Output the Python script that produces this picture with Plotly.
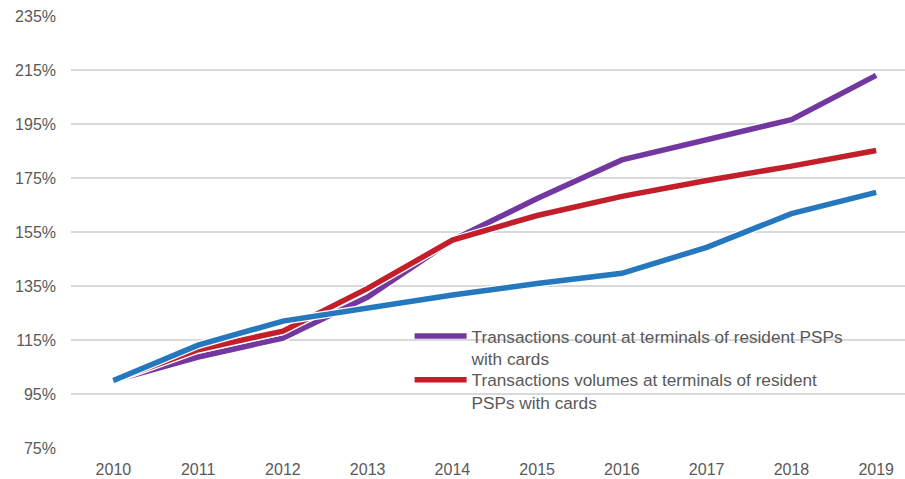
import plotly.graph_objects as go

years = ["2010", "2011", "2012", "2013", "2014", "2015", "2016", "2017", "2018", "2019"]
count_vals = [100, 108.7, 115.7, 130.9, 152.0, 167.4, 181.7, 188.9, 196.6, 213.0]
volume_vals = [100, 111.4, 118.3, 134.1, 152.0, 161.1, 168.2, 174.1, 179.4, 185.2]
other_vals = [100, 113.1, 122.0, 126.9, 131.7, 135.9, 139.7, 149.3, 161.8, 169.7]

count_name = "Transactions count at terminals of resident PSPs<br>with cards"
volume_name = "Transactions volumes at terminals of resident<br>PSPs with cards"

y_ticks = [75, 95, 115, 135, 155, 175, 195, 215, 235]
y_tick_labels = ["75%", "95%", "115%", "135%", "155%", "175%", "195%", "215%", "235%"]

series = [
    (count_vals, "#7238A0", count_name, True, "legend"),
    (volume_vals, "#C21F2A", volume_name, True, "legend2"),
    (other_vals, "#2577BE", "Other", False, "legend"),
]

fig = go.Figure()
for vals, color, name, show, leg in series:
    fig.add_trace(go.Scatter(x=years, y=vals, mode="lines",
                             line=dict(color="white", width=8),
                             showlegend=False, hoverinfo="skip"))
    fig.add_trace(go.Scatter(x=years, y=vals, mode="lines", name=name,
                             line=dict(color=color, width=5.5),
                             showlegend=show, legend=leg))

legend_style = dict(xanchor="left", yanchor="top", bgcolor="rgba(0,0,0,0)",
                    itemwidth=52, valign="top",
                    font=dict(size=17.2, color="#595959"))

fig.update_layout(
    width=905, height=479,
    margin=dict(l=71, r=0, t=16, b=31),
    paper_bgcolor="white", plot_bgcolor="white",
    font=dict(family="Liberation Sans, Arial, sans-serif", size=16, color="#595959"),
    legend=dict(x=0.406, y=0.300, **legend_style),
    legend2=dict(x=0.406, y=0.199, **legend_style),
    xaxis=dict(type="category", range=[-0.5, 9.34], showgrid=False,
               showline=False, zeroline=False, ticks="", ticklabelstandoff=10),
    yaxis=dict(range=[75, 235], tickvals=y_ticks, ticktext=y_tick_labels,
               showgrid=True, gridcolor="#D9D9D9", gridwidth=1.5,
               zeroline=False, showline=False, ticks="", ticklabelstandoff=14),
)

fig.write_html("out.html", config={"displayModeBar": False},
               post_script="document.body.style.margin='0';document.body.style.padding='0';")
